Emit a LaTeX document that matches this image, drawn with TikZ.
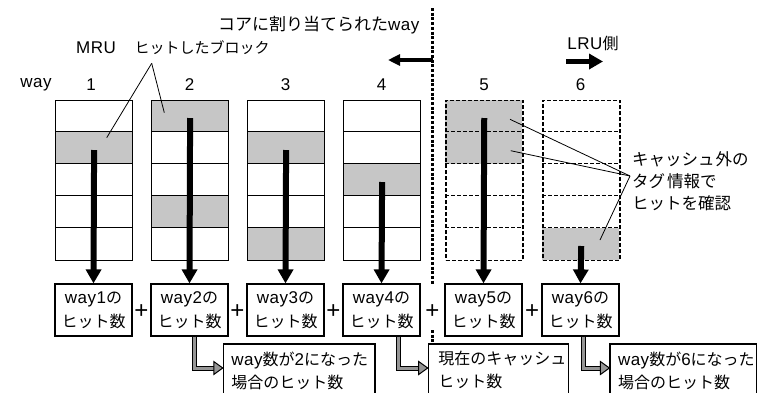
\documentclass[tikz,border=0pt]{standalone}
\usepackage{fontspec}
\setmainfont{Noto Sans CJK JP}
\newfontfamily\lafont[LetterSpace=3]{Liberation Sans}
\newcommand\la[1]{{\fontsize{17}{20}\lafont #1}}
\usetikzlibrary{arrows.meta}
\definecolor{hitgray}{RGB}{198,198,198}
\definecolor{arrgray}{RGB}{150,150,150}
\begin{document}
\begin{tikzpicture}[x=1pt,y=-1pt,
  font=\fontsize{16}{24}\selectfont,
  colbox/.style={draw,line width=1.2pt,minimum width=77pt,minimum height=160pt,inner sep=0pt,anchor=north west},
  dashbox/.style={colbox,dash pattern=on 4pt off 2pt,line width=1.5pt},
  rowline/.style={line width=1.2pt},
  dashrow/.style={line width=1.5pt,dash pattern=on 4pt off 2pt},
  bigarrow/.style={line width=6pt,-{Triangle[width=15pt,length=14pt]}},
  countbox/.style={draw,line width=1.2pt,minimum width=77pt,minimum height=52pt,inner sep=0pt,align=center,font=\fontsize{16}{24}\selectfont},
  plus/.style={font=\fontsize{24}{24}\lafont,inner sep=0pt},
  resultbox/.style={draw,line width=1.2pt,inner xsep=8pt,inner ysep=0pt,minimum height=52.8pt,align=left,font=\fontsize{16}{23}\selectfont},
  leader/.style={line width=0.8pt},
  lshaft/.style={double=arrgray,double distance=3pt,line width=1pt},
  lhead/.style={fill=arrgray,draw=black,line width=1pt,line join=miter},
  sep/.style={line width=3.5pt,dash pattern=on 3pt off 1.7pt},
  lbl/.style={inner sep=0pt}
]
\useasboundingbox (0,0) rectangle (757,392);
\fill[white] (0,0) rectangle (757,392);

% shaded hit cells
\foreach \x/\r in {55/2,151/1,151/4,247/2,247/5,343/3,445/1,445/2,542/5}
  \fill[hitgray] (\x,{99.5+32*(\r-1)}) rectangle ++(77,32);

% cache columns (solid)
\foreach \i/\x in {1/55,2/151,3/247,4/343} {
  \node[colbox] (c\i) at (\x,99.5) {};
  \foreach \k in {1,...,4} \draw[rowline] (\x,{99.5+32*\k}) -- ++(77,0);
}
% columns outside the cache (dashed)
\foreach \i/\x in {5/445,6/542} {
  \node[dashbox] (c\i) at (\x,99.5) {};
  \foreach \k in {1,...,4} \draw[dashrow] (\x,{99.5+32*\k}) -- ++(77,0);
}

% labels
\node[lbl,anchor=west,font=\fontsize{17}{20}\selectfont] (core) at (218,25) {コアに割り当てられた\la{way}};
\node[lbl] (mru) at (96,48) {\la{MRU}};
\node[lbl,anchor=west,font=\fontsize{15}{20}\selectfont] (hit) at (134.5,48) {ヒットしたブロック};
\node[lbl] (wayl) at (36,85) {\la{way}};
\foreach \i/\x in {1/91,2/189.5,3/285.5,4/381.5,5/484,6/580.5}
  \node[lbl] (n\i) at (\x,85) {\la{\i}};
\node[lbl] (lru) at (593,43) {\la{LRU}側};
\node[lbl,anchor=west,align=left,font=\fontsize{16.5}{22}\selectfont] (tag) at (632,181.4) {キャッシュ\hspace{1pt}外の\\タグ\hspace{2pt}情報で\\ヒットを確認};

% leader lines
\coordinate (hb) at (151.7,63.3);
\draw[leader] (hb) -- (106.7,137.7);
\draw[leader] (hb) -- (164.3,112.7);
\coordinate (tg) at (630,176);
\draw[leader] (tg) -- (510,119.3);
\draw[leader] (tg) -- (510.7,150.7);
\draw[leader] (tg) -- (600,240);

% hit count boxes
\foreach \i/\x in {1/93.5,2/189.5,3/285.5,4/381.5,5/483.5,6/580.5}
  \node[countbox] (b\i) at (\x,310) {\la{way\i}の\\ヒット数};

% downward arrows
\foreach \i/\y in {1/150,2/118,3/150,4/182,5/118,6/246}
  \draw[bigarrow] (c\i.north |- 0,\y) -- (b\i.north);

% plus signs
\foreach \j/\x in {1/141.5,2/237.5,3/333.5,4/432.5,5/532}
  \node[plus] (p\j) at (\x,312) {+};

% result boxes
\node[resultbox,text width=135.7pt] (r1) at (299.2,370.4) {\la{way}数が\la{2}になった\\場合のヒット数};
\node[resultbox,inner xsep=10pt,text width=120pt] (r2) at (498.3,370.4) {現在のキャッシュ\\ヒット数};
\node[resultbox,text width=130.5pt] (r3) at (683.25,370.4) {\la{way}数が\la{6}になった\\場合のヒット数};

% separator between allocated ways and the rest
\draw[sep] (432.5,8) -- (432.5,285);
\draw[sep] (432.5,330) -- (432.5,345);

% direction arrows
\draw[line width=3.5pt,-{Triangle[width=11pt,length=12pt]}] (432.5,60) -- (388,60);
\draw[line width=5pt,-{Triangle[width=15pt,length=14pt]}] (566,61.5) -- (603,61.5);

% L-shaped arrows to the results
\foreach \b/\s/\r in {2/4.5/r1,4/16.5/r2,6/2.8/r3} {
  \draw[lshaft] ([xshift=\s pt]b\b.south) |- ([xshift=-8pt,yshift=2.4pt]\r.west);
  \filldraw[lhead] ([yshift=2.4pt]\r.west) -- ++(-9,-6.5) -- ++(0,13) -- cycle;
}
\end{tikzpicture}
\end{document}
